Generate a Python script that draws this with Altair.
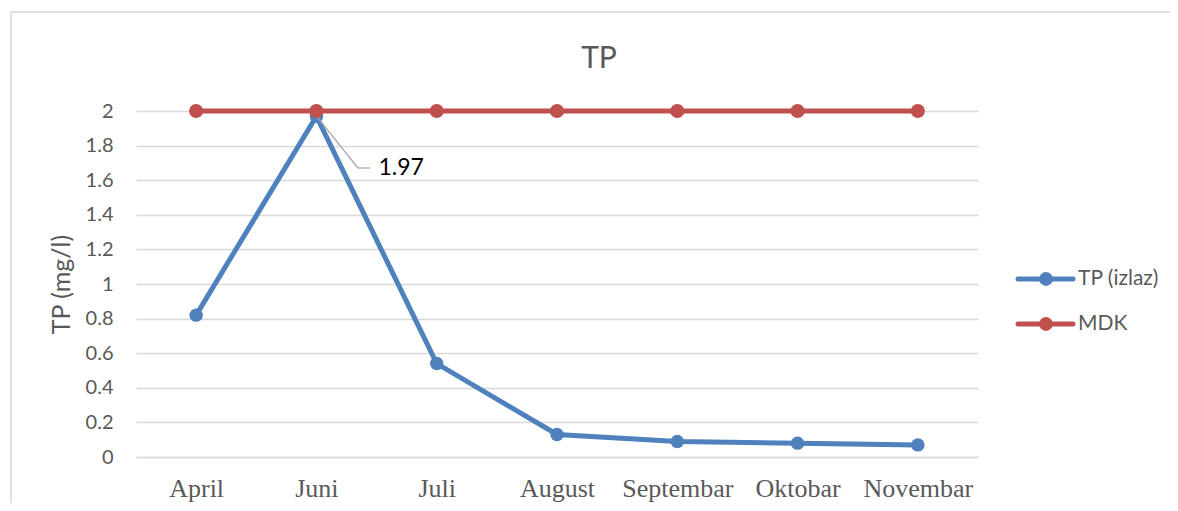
import altair as alt
import pandas as pd

# ---- data ----
months = ["April", "Juni", "Juli", "August", "Septembar", "Oktobar", "Novembar"]
tp_izlaz = [0.82, 1.97, 0.54, 0.13, 0.09, 0.08, 0.07]
mdk = [2, 2, 2, 2, 2, 2, 2]
series = ["TP (izlaz)", "MDK"]
colors = ["#4f81bd", "#c0504d"]
y_ticks = [0, 0.2, 0.4, 0.6, 0.8, 1.0, 1.2, 1.4, 1.6, 1.8, 2.0]
chart_title = ["TP"]
annot_month = ["Juni"]
annot_value = [1.97]
annot_label = ["1.97"]

df = pd.DataFrame({
    "month": months * 2,
    "value": tp_izlaz + mdk,
    "series": [series[0]] * len(months) + [series[1]] * len(months),
})
annot_df = pd.DataFrame({"month": annot_month, "value": annot_value, "label": annot_label})
legend_df = pd.DataFrame({"series": series})
title_df = pd.DataFrame({"t": chart_title})
frame_df = pd.DataFrame({"k": [0]})

GRID = "#d9d9d9"
TXT = "#595959"

color_scale = alt.Scale(domain=series, range=colors)

x_enc = alt.X(
    "month:N", sort=months,
    scale=alt.Scale(type="point", padding=0.5, domain=months),
    axis=alt.Axis(title=None, labelAngle=0, labelFont="Liberation Serif", labelFontSize=26,
                  labelColor=TXT, ticks=False, grid=False, domainColor=GRID, domainWidth=1.3,
                  labelPadding=18),
)
y_enc = alt.Y(
    "value:Q",
    scale=alt.Scale(domain=[0, 2], nice=False, zero=True),
    axis=alt.Axis(title="TP (mg/l)", values=y_ticks, tickCount=11, labelOverlap=False,
                  format=".1~f", labelFont="Lato",
                  labelFontSize=20, labelColor=TXT, labelPadding=23, ticks=False, domain=False,
                  grid=True, gridColor=GRID, gridWidth=1.3, titleFont="Lato", titleFontSize=25,
                  titleFontWeight="normal", titleColor=TXT, titlePadding=11),
)
color_enc = alt.Color("series:N", scale=color_scale, legend=None)

base = alt.Chart(df)

border_top = alt.Chart(frame_df).mark_rule(color=GRID, strokeWidth=1.5).encode(
    x=alt.value(-125), x2=alt.value(1300), y=alt.value(-99)
)
border_left = alt.Chart(frame_df).mark_rule(color=GRID, strokeWidth=1.5).encode(
    x=alt.value(-125), y=alt.value(-99), y2=alt.value(500)
)

title_txt = alt.Chart(title_df).mark_text(
    align="center", baseline="alphabetic", font="Lato", fontSize=30, color=TXT
).encode(x=alt.value(463), y=alt.value(-43), text="t:N")

leader = alt.Chart(annot_df).mark_rule(color="#a6a6a6", strokeWidth=1.2).encode(
    x=x_enc, y=y_enc,
    x2=alt.value(222), y2=alt.value(57),
)
leader2 = alt.Chart(annot_df).mark_rule(color="#a6a6a6", strokeWidth=1.2).encode(
    x=alt.value(222), x2=alt.value(234), y=alt.value(57)
)

layers = [border_top, border_left, title_txt]
for i, s in enumerate(series):
    sub = base.transform_filter(alt.datum.series == s)
    line = sub.mark_line(strokeWidth=5).encode(x=x_enc, y=y_enc, color=color_enc)
    pts = sub.mark_point(filled=True, opacity=1, size=200 if i else 180).encode(
        x=x_enc, y=y_enc, color=color_enc)
    layers += [line, pts]
    if i == 0:
        layers += [leader, leader2]

annot_text = alt.Chart(annot_df).mark_text(
    align="left", baseline="middle", dx=62, dy=52, font="Lato", fontSize=23, color="#000000"
).encode(x=x_enc, y=y_enc, text="label:N")
layers.append(annot_text)

main = alt.layer(*layers)

# ---- legend ----
leg_y = alt.Y("series:N", scale=alt.Scale(type="point", domain=series, range=[168, 213], padding=0),
              axis=None)
leg_line = alt.Chart(legend_df).mark_rule(strokeWidth=5, strokeCap="round").encode(
    x=alt.value(882), x2=alt.value(937), y=leg_y, color=color_enc)
leg_pt = alt.Chart(legend_df).mark_point(filled=True, opacity=1, size=190).encode(
    x=alt.value(910), y=leg_y, color=color_enc)
leg_txt = alt.Chart(legend_df).mark_text(align="left", baseline="middle", font="Lato",
                                         fontSize=21, color=TXT).encode(
    x=alt.value(942), y=leg_y, text="series:N")
legend = alt.layer(leg_line, leg_pt, leg_txt)

chart = alt.layer(main, legend).resolve_scale(y="independent").properties(
    width=842, height=346,
    autosize=alt.AutoSizeParams(type="none"),
    padding={"left": 128, "top": 103, "right": 192, "bottom": 46},
).configure_view(stroke=None)

chart.save("out.html", embed_options={"renderer": "svg", "actions": False})
